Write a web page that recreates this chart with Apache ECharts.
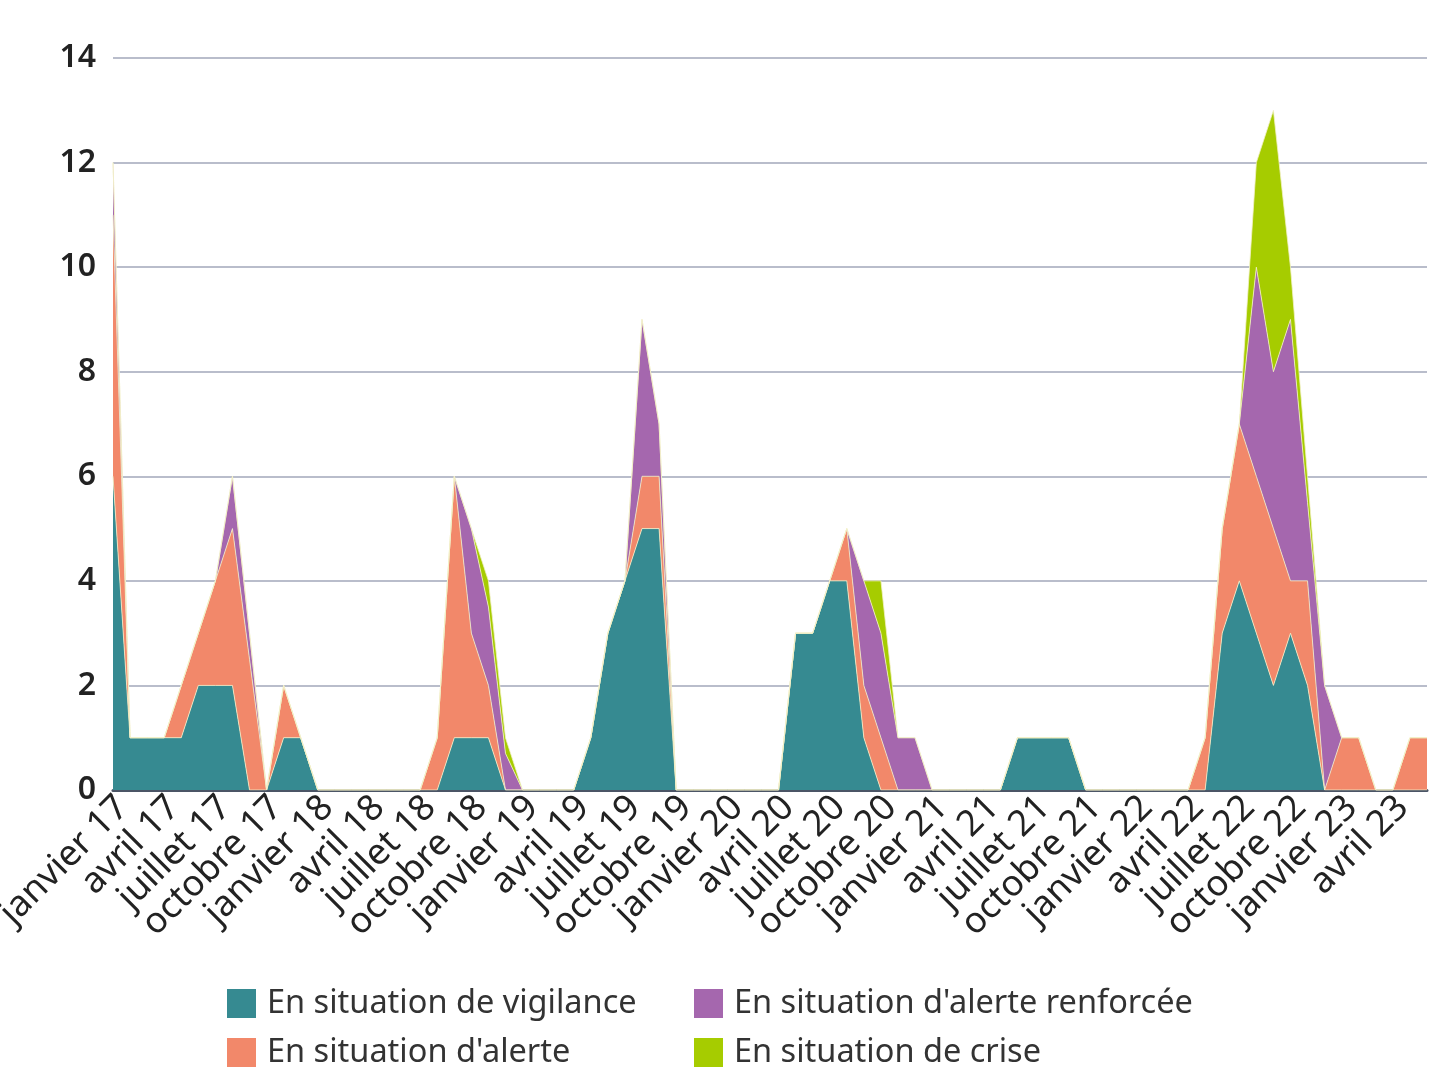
<!DOCTYPE html>
<html>
<head>
<meta charset="utf-8">
<script src="https://cdn.jsdelivr.net/npm/echarts@6/dist/echarts.min.js"></script>
<style>
html,body{margin:0;padding:0;background:#fff;}
#chart{width:1446px;height:1081px;}
</style>
</head>
<body>
<div id="chart"></div>
<script>
// Month names and years used for the category axis
const monthNames = ['janvier','février','mars','avril','mai','juin','juillet','août','septembre','octobre','novembre','décembre'];
const years = ['17','18','19','20','21','22','23'];
const categories = [];
for (let i = 0; i < 78; i++) {
  categories.push(monthNames[i % 12] + ' ' + years[Math.floor(i / 12)]);
}

// Series values (janvier 17 .. juin 23)
const vigilance = [6,1,1,1,1,2,2,2,0,0, 1,1,0,0,0,0,0,0,0,0, 1,1,1,0,0,0,0,0,1,3, 4,5,5,0,0,0,0,0,0,0, 3,3,4,4,1,0,0,0,0,0, 0,0,0,1,1,1,1,0,0,0, 0,0,0,0,0,3,4,3,2,3, 2,0,0,0,0,0,0,0];
const alerte = [5,0,0,0,1,1,2,3,2.5,0, 1,0,0,0,0,0,0,0,0,1, 5,2,1,0,0,0,0,0,0,0, 0,1,1,0,0,0,0,0,0,0, 0,0,0,1,1,1,0,0,0,0, 0,0,0,0,0,0,0,0,0,0, 0,0,0,0,1,2,3,3,3,1, 2,0,1,1,0,0,1,1];
const alerteRenforcee = [1,0,0,0,0,0,0,1,0.5,0, 0,0,0,0,0,0,0,0,0,0, 0,2,1.5,0.7,0,0,0,0,0,0, 0,3,1,0,0,0,0,0,0,0, 0,0,0,0,2,2,1,1,0,0, 0,0,0,0,0,0,0,0,0,0, 0,0,0,0,0,0,0,4,3,5, 1.5,2,0,0,0,0,0,0];
const crise = [0,0,0,0,0,0,0,0,0,0, 0,0,0,0,0,0,0,0,0,0, 0,0,0.5,0.3,0,0,0,0,0,0, 0,0,0,0,0,0,0,0,0,0, 0,0,0,0,0,1,0,0,0,0, 0,0,0,0,0,0,0,0,0,0, 0,0,0,0,0,0,0,2,5,1, 0.5,0,0,0,0,0,0,0];

const seriesNames = ['En situation de vigilance','En situation d\'alerte','En situation d\'alerte renforcée','En situation de crise'];
const colors = ['#368a91','#f2886a','#a567ae','#a6cc00'];
const yTicks = {min:0, max:14, interval:2};

const font = 'Noto Sans';
const chart = echarts.init(document.getElementById('chart'), null, {renderer:'canvas'});

function mkSeries(name, data, color) {
  return {
    name: name, type: 'line', stack: 'total', data: data,
    symbol: 'none', smooth: false,
    lineStyle: {width: 0.8, color: '#f3f0c8'},
    areaStyle: {color: color, opacity: 1},
    itemStyle: {color: color},
    emphasis: {disabled: true}
  };
}

function mkLegend(name, left, top) {
  return {
    data: [name], left: left, top: top, orient: 'horizontal',
    icon: 'rect', itemWidth: 29, itemHeight: 29, padding: 0,
    selectedMode: false,
    textStyle: {fontFamily: font, fontSize: 32.5, color: '#333', padding: [0,0,0,6]}
  };
}

chart.setOption({
  animation: false,
  backgroundColor: '#fff',
  grid: {left: 113, right: 19, top: 58, bottom: 291, containLabel: false, outerBoundsMode: 'none'},
  legend: [
    mkLegend(seriesNames[0], 227, 987),
    mkLegend(seriesNames[2], 694, 987),
    mkLegend(seriesNames[1], 227, 1036),
    mkLegend(seriesNames[3], 694, 1036)
  ],
  xAxis: {
    type: 'category', data: categories, boundaryGap: false,
    axisLine: {show: true, lineStyle: {color: '#4b5566', width: 3}},
    axisTick: {show: false},
    axisLabel: {interval: 2, rotate: 45, margin: 2, align: 'right', verticalAlign: 'top', lineHeight: 28, fontFamily: font, fontSize: 36, color: '#222'}
  },
  yAxis: {
    type: 'value', min: yTicks.min, max: yTicks.max, interval: yTicks.interval,
    axisLine: {show: false}, axisTick: {show: false},
    axisLabel: {margin: 17, fontFamily: font, fontSize: 32, fontWeight: 600, color: '#222'},
    splitLine: {lineStyle: {color: '#b9bdcb', width: 2}}
  },
  series: [
    mkSeries(seriesNames[0], vigilance, colors[0]),
    mkSeries(seriesNames[1], alerte, colors[1]),
    mkSeries(seriesNames[2], alerteRenforcee, colors[2]),
    mkSeries(seriesNames[3], crise, colors[3])
  ]
});
</script>
</body>
</html>
